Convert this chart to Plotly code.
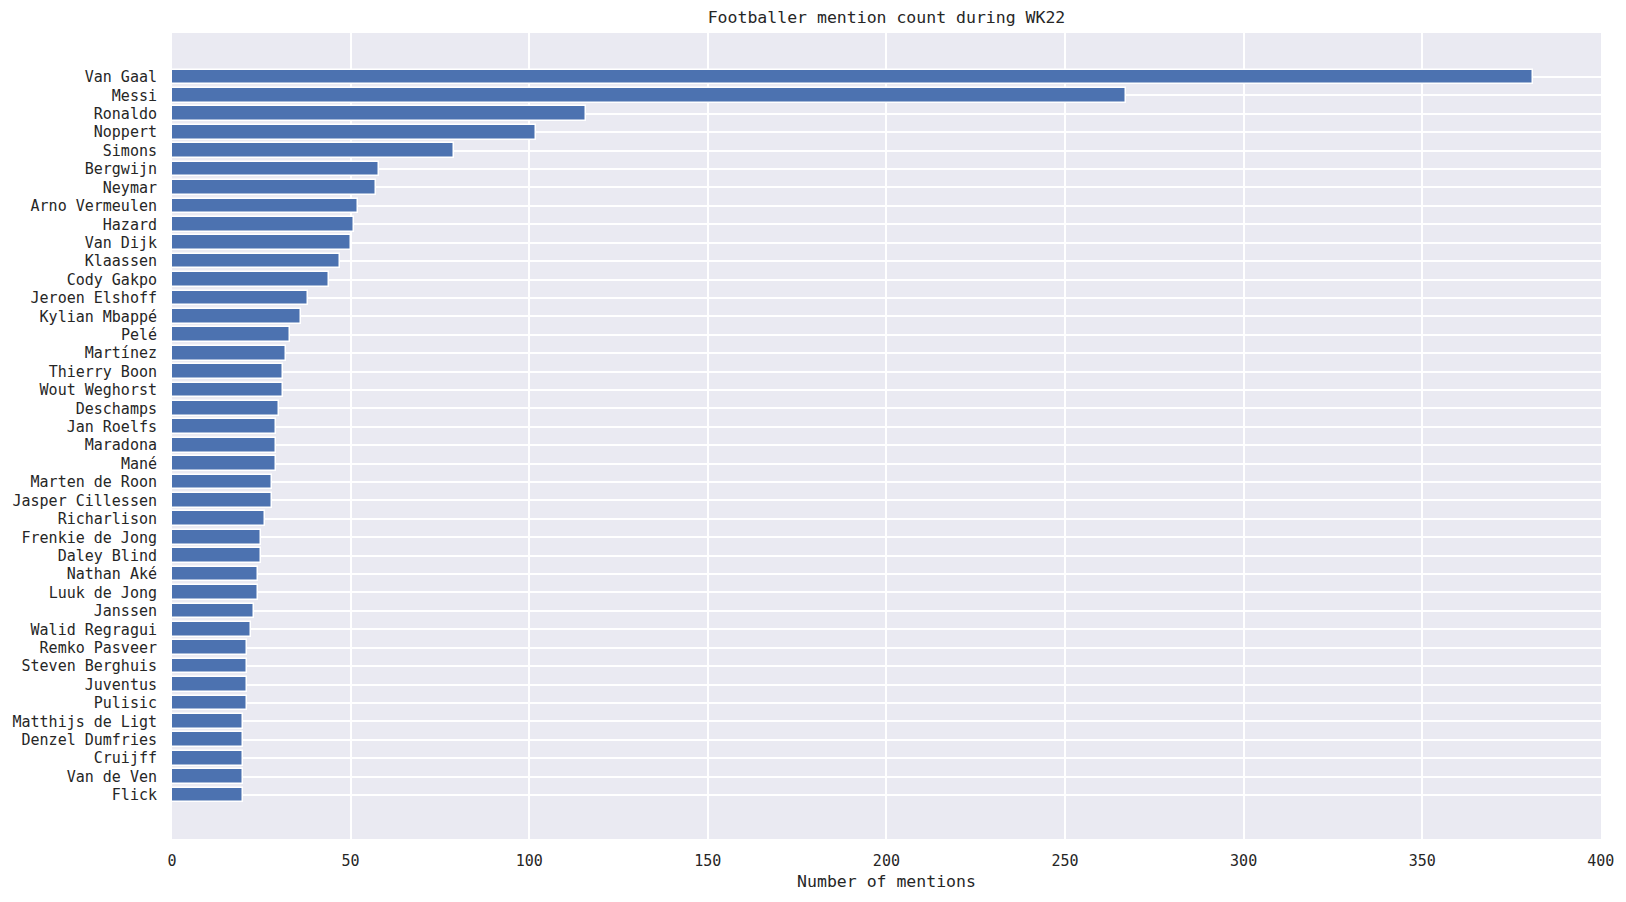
import plotly.graph_objects as go

# ── Data (top to bottom as shown) ─────────────────────────────────────────────
players = [
    "Van Gaal", "Messi", "Ronaldo", "Noppert", "Simons", "Bergwijn", "Neymar",
    "Arno Vermeulen", "Hazard", "Van Dijk", "Klaassen", "Cody Gakpo",
    "Jeroen Elshoff", "Kylian Mbappé", "Pelé", "Martínez", "Thierry Boon",
    "Wout Weghorst", "Deschamps", "Jan Roelfs", "Maradona", "Mané",
    "Marten de Roon", "Jasper Cillessen", "Richarlison", "Frenkie de Jong",
    "Daley Blind", "Nathan Aké", "Luuk de Jong", "Janssen", "Walid Regragui",
    "Remko Pasveer", "Steven Berghuis", "Juventus", "Pulisic",
    "Matthijs de Ligt", "Denzel Dumfries", "Cruijff", "Van de Ven", "Flick",
]
mentions = [
    381, 267, 116, 102, 79, 58, 57,
    52, 51, 50, 47, 44,
    38, 36, 33, 32, 31,
    31, 30, 29, 29, 29,
    28, 28, 26, 25,
    25, 24, 24, 23, 22,
    21, 21, 21, 21,
    20, 20, 20, 20, 20,
]

BG = "#EAEAF2"
BAR = "#4C72B0"
FONT = "DejaVu Sans Mono"

n = len(players)
pad = 0.05 * (n - 1 + 0.8)   # matplotlib-like 5% margin

fig = go.Figure(go.Bar(
    x=mentions, y=players, orientation="h",
    width=0.8,
    marker=dict(color=BAR, line=dict(color="white", width=1.5)),
))

fig.update_layout(
    width=1626, height=902,
    margin=dict(l=170, r=24, t=33, b=63),
    plot_bgcolor=BG, paper_bgcolor="white",
    font=dict(family=FONT, size=15, color="#262626"),
    title=dict(text="Footballer mention count during WK22", x=0.5, xref="paper",
               xanchor="center", y=1 - 17 / 902, yanchor="middle",
               font=dict(size=16.5)),
    showlegend=False,
    bargap=0,
)
fig.update_xaxes(
    range=[0, 400.05], dtick=50, showgrid=True, gridcolor="white", gridwidth=1.5,
    zeroline=False, showline=False, ticks="outside", ticklen=8,
    tickcolor="rgba(0,0,0,0)",
    title=dict(text="Number of mentions", font=dict(size=16.5), standoff=6),
)
fig.update_yaxes(
    type="category", range=[n - 1 + 0.4 + pad, -0.4 - pad],
    showgrid=True, gridcolor="white", gridwidth=1.5, zeroline=False,
    ticks="outside", ticklen=11, tickcolor="rgba(0,0,0,0)",
)

# drop the default page margin so the figure sits at the window's corner
fig.write_html("out.html", config={"displayModeBar": False},
               post_script="document.body.style.margin='0';")
